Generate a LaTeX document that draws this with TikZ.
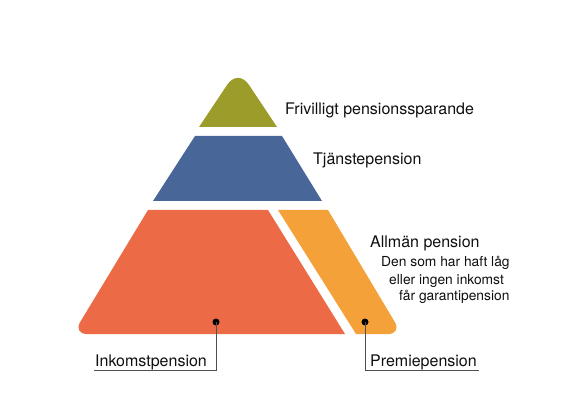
\documentclass[tikz,border=0pt]{standalone}
\usepackage{fontspec}
\setmainfont{TeX Gyre Heros}
\definecolor{olivec}{RGB}{155,156,42}
\definecolor{bluec}{RGB}{73,102,152}
\definecolor{orangec}{RGB}{236,106,69}
\definecolor{lightorangec}{RGB}{244,161,57}
\definecolor{txtc}{RGB}{15,15,15}
\definecolor{linec}{RGB}{80,80,80}
\tikzset{
  lbl/.style={anchor=base west, inner sep=0pt, text=txtc, font=\fontsize{16}{19}\selectfont},
  smalllbl/.style={anchor=base west, inner sep=0pt, text=txtc, font=\fontsize{13.8}{16}\selectfont},
  dotnode/.style={circle, fill=black, inner sep=0pt, minimum size=7pt},
  leader/.style={draw=linec, line width=0.9pt}
}
\begin{document}
\begin{tikzpicture}[x=1pt,y=-1pt]
\useasboundingbox (0,0) rectangle (570,403);
% top (olive)
\fill[olivec] (199,127) -- (227,85) .. controls (233.3,75.5) and (242.7,75.5) .. (249,85) -- (277,127) -- cycle;
% blue
\fill[bluec] (195,136) -- (282,136) -- (322,201) -- (153,201) -- cycle;
% big orange
\fill[orangec] (148,210) -- (268,210) -- (345,334) -- (87,334) .. controls (79.3,334) and (76.2,328.6) .. (80.2,322) -- cycle;
% light orange
\fill[lightorangec] (278,210) -- (328,210) -- (394.8,322) .. controls (398.8,328.6) and (395.7,334) .. (388,334) -- (356,334) -- cycle;
% labels
\node[lbl] (friv) at (285,115) {Frivilligt pensionssparande};
\node[lbl] (tjan) at (313,165) {Tjänstepension};
\node[lbl] (allm) at (370,248) {Allmän pension};
\node[smalllbl] (den) at (381,267) {Den som har haft låg};
\node[smalllbl] (eller) at (389,284) {eller ingen inkomst};
\node[smalllbl] (far) at (399,300) {får garantipension};
\node[lbl] (inko) at (95,366) {Inkomstpension};
\node[lbl] (prem) at (370,366) {Premiepension};
% dots and leaders
\node[dotnode] (d1) at (216,322) {};
\node[dotnode] (d2) at (365,322) {};
\coordinate (c1) at (216,370);
\coordinate (e1) at (94,370);
\coordinate (c2) at (365,370);
\coordinate (e2) at (479,370);
\draw[leader] (d1.center) -- (c1) -- (e1);
\draw[leader] (d2.center) -- (c2) -- (e2);
\end{tikzpicture}
\end{document}
